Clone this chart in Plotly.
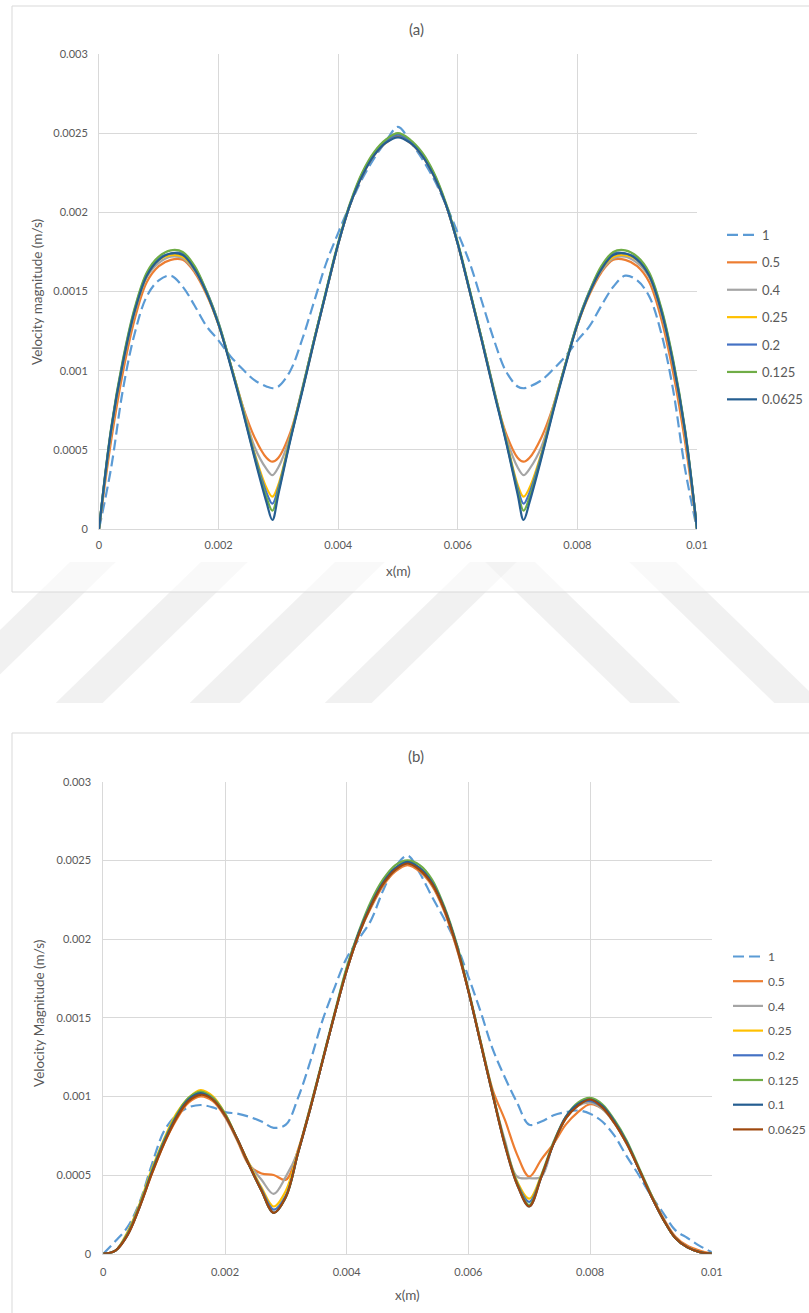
import plotly.graph_objects as go

W, H = 809, 1313

# ---------------- (a) data ----------------
XA = [0, 0.0002, 0.0004, 0.0006, 0.0008, 0.001, 0.0012, 0.0014, 0.0016, 0.0018,
      0.002, 0.0022, 0.0024, 0.0026, 0.0028, 0.0029, 0.003, 0.0032, 0.0034, 0.0036,
      0.0038, 0.004, 0.0042, 0.0044, 0.0046, 0.0048, 0.005, 0.0052, 0.0054, 0.0056,
      0.0058, 0.006, 0.0062, 0.0064, 0.0066, 0.0068, 0.007, 0.0071, 0.0072, 0.0074,
      0.0076, 0.0078, 0.008, 0.0082, 0.0084, 0.0086, 0.0088, 0.009, 0.0092, 0.0094,
      0.0096, 0.0098, 0.01]

A_1 = [0, 0.00038, 0.00088, 0.00124, 0.00147, 0.00157, 0.0016, 0.00153, 0.00141, 0.00128,
       0.00119, 0.00109, 0.00101, 0.00094, 0.0009, 0.000889, 0.0009, 0.001, 0.0012, 0.00144,
       0.00168, 0.00187, 0.00205, 0.00221, 0.00234, 0.00245, 0.00254, 0.00245, 0.00234, 0.00221,
       0.00205, 0.00187, 0.00168, 0.00144, 0.0012, 0.001, 0.0009, 0.000889, 0.0009, 0.00094,
       0.00101, 0.00109, 0.00119, 0.00128, 0.00141, 0.00153, 0.0016, 0.00157, 0.00147, 0.00124,
       0.00088, 0.00038, 0]
A_05 = [0, 0.00055, 0.00099, 0.00133, 0.00156, 0.00166, 0.0017, 0.0017, 0.00162, 0.00148,
        0.00129, 0.00104, 0.00078, 0.00058, 0.00045, 0.000425, 0.00045, 0.00061, 0.00088, 0.00119,
        0.0015, 0.0018, 0.00205, 0.00223, 0.00236, 0.00244, 0.00248, 0.00244, 0.00236, 0.00223,
        0.00205, 0.0018, 0.0015, 0.00119, 0.00088, 0.00061, 0.00045, 0.000425, 0.00045, 0.00058,
        0.00078, 0.00104, 0.00129, 0.00148, 0.00162, 0.0017, 0.0017, 0.00166, 0.00156, 0.00133,
        0.00099, 0.00055, 0]
A_04 = [0, 0.0006, 0.00104, 0.00137, 0.00159, 0.00168, 0.00172, 0.00171, 0.00163, 0.00149,
        0.00129, 0.00104, 0.00078, 0.00052, 0.00038, 0.00034, 0.00039, 0.00059, 0.00089, 0.0012,
        0.0015, 0.0018, 0.00205, 0.00224, 0.00237, 0.00245, 0.00249, 0.00245, 0.00237, 0.00224,
        0.00205, 0.0018, 0.0015, 0.0012, 0.00089, 0.00059, 0.00039, 0.00034, 0.00038, 0.00052,
        0.00078, 0.00104, 0.00129, 0.00149, 0.00163, 0.00171, 0.00172, 0.00168, 0.00159, 0.00137,
        0.00104, 0.0006, 0]
A_025 = [0, 0.00061, 0.00105, 0.00138, 0.0016, 0.0017, 0.00173, 0.00172, 0.00164, 0.00149,
         0.00129, 0.00104, 0.00077, 0.00048, 0.00026, 0.000204, 0.00028, 0.00058, 0.00088, 0.0012,
         0.0015, 0.0018, 0.00205, 0.00224, 0.00237, 0.00245, 0.00249, 0.00245, 0.00237, 0.00224,
         0.00205, 0.0018, 0.0015, 0.0012, 0.00088, 0.00058, 0.00028, 0.000204, 0.00026, 0.00048,
         0.00077, 0.00104, 0.00129, 0.00149, 0.00164, 0.00172, 0.00173, 0.0017, 0.0016, 0.00138,
         0.00105, 0.00061, 0]
A_02 = [0, 0.00062, 0.00106, 0.00139, 0.00161, 0.00171, 0.00174, 0.00174, 0.00165, 0.0015,
        0.0013, 0.00104, 0.00076, 0.00047, 0.00023, 0.00016, 0.00026, 0.00057, 0.00088, 0.0012,
        0.0015, 0.0018, 0.00205, 0.00224, 0.00237, 0.00245, 0.00249, 0.00245, 0.00237, 0.00224,
        0.00205, 0.0018, 0.0015, 0.0012, 0.00088, 0.00057, 0.00026, 0.00016, 0.00023, 0.00047,
        0.00076, 0.00104, 0.0013, 0.0015, 0.00165, 0.00174, 0.00174, 0.00171, 0.00161, 0.00139,
        0.00106, 0.00062, 0]
A_0125 = [0, 0.00063, 0.00107, 0.0014, 0.00162, 0.00172, 0.00176, 0.00175, 0.00166, 0.0015,
          0.0013, 0.00104, 0.00076, 0.00046, 0.0002, 0.000116, 0.00024, 0.00057, 0.00088, 0.0012,
          0.00151, 0.00181, 0.00206, 0.00225, 0.00238, 0.00246, 0.0025, 0.00246, 0.00238, 0.00225,
          0.00206, 0.00181, 0.00151, 0.0012, 0.00088, 0.00057, 0.00024, 0.000116, 0.0002, 0.00046,
          0.00076, 0.00104, 0.0013, 0.0015, 0.00166, 0.00175, 0.00176, 0.00172, 0.00162, 0.0014,
          0.00107, 0.00063, 0]
A_00625 = [0, 0.00062, 0.00105, 0.00138, 0.0016, 0.0017, 0.00174, 0.00173, 0.00164, 0.00149,
           0.00129, 0.00103, 0.00075, 0.00045, 0.00017, 0.000057, 0.00022, 0.00056, 0.00087, 0.00119,
           0.0015, 0.0018, 0.00205, 0.00223, 0.00236, 0.00244, 0.002474, 0.00244, 0.00236, 0.00223,
           0.00205, 0.0018, 0.0015, 0.00119, 0.00087, 0.00056, 0.00022, 0.000057, 0.00017, 0.00045,
           0.00075, 0.00103, 0.00129, 0.00149, 0.00164, 0.00173, 0.00174, 0.0017, 0.0016, 0.00138,
           0.00105, 0.00062, 0]

# ---------------- (b) data ----------------
XB = [0, 0.0002, 0.0004, 0.0006, 0.0008, 0.001, 0.0012, 0.0014, 0.0016, 0.0018,
      0.002, 0.0022, 0.0024, 0.0026, 0.0028, 0.003, 0.0032, 0.0034, 0.0036, 0.0038,
      0.004, 0.0042, 0.0044, 0.0046, 0.0048, 0.005, 0.0052, 0.0054, 0.0056, 0.0058,
      0.006, 0.0062, 0.0064, 0.0066, 0.0068, 0.007, 0.0072, 0.0074, 0.0076, 0.0078,
      0.008, 0.0082, 0.0084, 0.0086, 0.0088, 0.009, 0.0092, 0.0094, 0.0096, 0.0098, 0.01]

B_1 = [0, 0.00008, 0.00017, 0.00033, 0.00057, 0.00078, 0.00088, 0.00093, 0.000945, 0.00093,
       0.0009, 0.00089, 0.00087, 0.00084, 0.0008, 0.00082, 0.00099, 0.00122, 0.00148, 0.00169,
       0.00188, 0.002, 0.00212, 0.00231, 0.00246, 0.00253, 0.00242, 0.00227, 0.00213, 0.00197,
       0.00176, 0.00154, 0.0013, 0.00112, 0.00096, 0.00082, 0.00084, 0.00088, 0.0009, 0.00091,
       0.00089, 0.00084, 0.00075, 0.00062, 0.0005, 0.00037, 0.00026, 0.00015, 0.0001, 0.00005, 0.00001]
B_05 = [0, 0.00002, 0.00012, 0.0003, 0.00051, 0.0007, 0.00085, 0.00096, 0.001, 0.00097,
        0.00087, 0.00072, 0.00056, 0.00051, 0.0005, 0.00047, 0.00066, 0.00093, 0.00122, 0.00152,
        0.0018, 0.00203, 0.0022, 0.00234, 0.00243, 0.00247, 0.00243, 0.00234, 0.00218, 0.00195,
        0.00167, 0.00135, 0.00104, 0.00085, 0.00063, 0.00049, 0.0006, 0.0007, 0.00082, 0.0009,
        0.00095, 0.00092, 0.00083, 0.0007, 0.00054, 0.00038, 0.00023, 0.00011, 0.00005, 0.00002, 0]
B_04 = [0, 0.00002, 0.00013, 0.00031, 0.00052, 0.00072, 0.00087, 0.00098, 0.00102, 0.00099,
        0.00088, 0.00073, 0.00057, 0.00047, 0.00038, 0.00049, 0.00065, 0.00092, 0.00122, 0.00152,
        0.0018, 0.00203, 0.00221, 0.00235, 0.00244, 0.00248, 0.00244, 0.00235, 0.00219, 0.00196,
        0.00167, 0.00134, 0.00101, 0.00072, 0.00049, 0.00048, 0.00049, 0.00071, 0.00086, 0.00094,
        0.00096, 0.00092, 0.00083, 0.0007, 0.00054, 0.00037, 0.00022, 0.0001, 0.00004, 0.00001, 0]
B_025 = [0, 0.00002, 0.00014, 0.00032, 0.00054, 0.00073, 0.00089, 0.00099, 0.00104, 0.001,
         0.00089, 0.00073, 0.00057, 0.00042, 0.0003, 0.0004, 0.00065, 0.00092, 0.00122, 0.00152,
         0.00181, 0.00204, 0.00222, 0.00236, 0.00245, 0.00249, 0.00245, 0.00236, 0.0022, 0.00197,
         0.00167, 0.00134, 0.00101, 0.0007, 0.00046, 0.00035, 0.0005, 0.0007, 0.00086, 0.00095,
         0.00097, 0.00093, 0.00084, 0.00071, 0.00054, 0.00037, 0.00022, 0.0001, 0.00004, 0.00001, 0]
B_02 = [0, 0.00002, 0.00013, 0.00031, 0.00052, 0.00072, 0.00087, 0.00098, 0.00102, 0.00099,
        0.00088, 0.00073, 0.00056, 0.00041, 0.00028, 0.00037, 0.00064, 0.00092, 0.00122, 0.00152,
        0.00181, 0.00204, 0.00222, 0.00236, 0.00245, 0.00249, 0.00245, 0.00236, 0.0022, 0.00197,
        0.00167, 0.00134, 0.00101, 0.0007, 0.00045, 0.00033, 0.00049, 0.0007, 0.00086, 0.00095,
        0.00097, 0.00093, 0.00084, 0.00071, 0.00054, 0.00037, 0.00022, 0.0001, 0.00004, 0.00001, 0]
B_0125 = [0, 0.00002, 0.00013, 0.00031, 0.00053, 0.00072, 0.00088, 0.00099, 0.00103, 0.00099,
          0.00089, 0.00073, 0.00056, 0.0004, 0.00026, 0.00036, 0.00064, 0.00093, 0.00123, 0.00153,
          0.00182, 0.00205, 0.00224, 0.00238, 0.00247, 0.0025, 0.00247, 0.00238, 0.00221, 0.00198,
          0.00168, 0.00135, 0.00102, 0.0007, 0.00045, 0.00031, 0.0005, 0.00071, 0.00087, 0.00096,
          0.00099, 0.00095, 0.00085, 0.00072, 0.00055, 0.00038, 0.00022, 0.0001, 0.00004, 0.00001, 0]
B_01 = [0, 0.00002, 0.00012, 0.0003, 0.00052, 0.00071, 0.00087, 0.00098, 0.00102, 0.00098,
        0.00088, 0.00073, 0.00056, 0.0004, 0.00026, 0.00036, 0.00064, 0.00092, 0.00122, 0.00152,
        0.0018, 0.00204, 0.00222, 0.00236, 0.00245, 0.00249, 0.00245, 0.00236, 0.0022, 0.00197,
        0.00167, 0.00134, 0.00101, 0.00069, 0.00044, 0.0003, 0.00049, 0.0007, 0.00087, 0.00095,
        0.00098, 0.00094, 0.00084, 0.00071, 0.00054, 0.00037, 0.00022, 0.0001, 0.00004, 0.00001, 0]
B_00625 = [0, 0.00002, 0.00012, 0.0003, 0.00051, 0.0007, 0.00086, 0.00097, 0.00101, 0.00098,
           0.00088, 0.00073, 0.00056, 0.0004, 0.00026, 0.00036, 0.00064, 0.00092, 0.00122, 0.00152,
           0.0018, 0.00203, 0.00221, 0.00235, 0.00244, 0.00248, 0.00244, 0.00235, 0.00219, 0.00196,
           0.00167, 0.00134, 0.00101, 0.00069, 0.00044, 0.0003, 0.00049, 0.0007, 0.00086, 0.00094,
           0.00098, 0.00093, 0.00083, 0.0007, 0.00054, 0.00037, 0.00022, 0.0001, 0.00004, 0.00001, 0]

# ---------------- ticks / labels ----------------
X_TICKS = [0, 0.002, 0.004, 0.006, 0.008, 0.01]
X_TICK_LABELS = ["0", "0.002", "0.004", "0.006", "0.008", "0.01"]
Y_TICKS = [0, 0.0005, 0.001, 0.0015, 0.002, 0.0025, 0.003]
Y_TICK_LABELS = ["0", "0.0005", "0.001", "0.0015", "0.002", "0.0025", "0.003"]

SERIES_A = [("1", A_1), ("0.5", A_05), ("0.4", A_04), ("0.25", A_025),
            ("0.2", A_02), ("0.125", A_0125), ("0.0625", A_00625)]
SERIES_B = [("1", B_1), ("0.5", B_05), ("0.4", B_04), ("0.25", B_025),
            ("0.2", B_02), ("0.125", B_0125), ("0.1", B_01), ("0.0625", B_00625)]

COLORS_A = ["#5B9BD5", "#ED7D31", "#A5A5A5", "#FFC000", "#4472C4", "#70AD47", "#255E91"]
COLORS_B = ["#5B9BD5", "#ED7D31", "#A5A5A5", "#FFC000", "#4472C4", "#70AD47", "#255E91", "#9E480E"]

FONT = "Lato"
TXT = "#595959"
GRID = "#d9d9d9"


def px(x):
    return x / W


def py(y):
    return 1 - y / H


fig = go.Figure()

for i, (name, vals) in enumerate(SERIES_A):
    fig.add_trace(go.Scatter(
        x=XA, y=vals, name=name, mode="lines", xaxis="x", yaxis="y",
        legend="legend", legendgroup="a" + name,
        line=dict(color=COLORS_A[i], width=2.2, shape="spline", smoothing=1.0,
                  dash="11px,5px" if name == "1" else "solid"),
    ))

for i, (name, vals) in enumerate(SERIES_B):
    fig.add_trace(go.Scatter(
        x=XB, y=vals, name=name, mode="lines", xaxis="x2", yaxis="y2",
        legend="legend2", legendgroup="b" + name,
        line=dict(color=COLORS_B[i], width=2.2, shape="spline", smoothing=1.0,
                  dash="11px,5px" if name == "1" else "solid"),
    ))

axis_common = dict(
    showgrid=True, gridcolor=GRID, gridwidth=1, zeroline=False,
    ticks="", tickfont=dict(family=FONT, size=11, color=TXT),
    showline=True, linecolor=GRID, linewidth=1, fixedrange=True,
)

fig.update_layout(
    width=W, height=H,
    margin=dict(l=0, r=0, t=0, b=0, autoexpand=False),
    paper_bgcolor="white", plot_bgcolor="rgba(0,0,0,0)",
    font=dict(family=FONT, color=TXT),
    xaxis=dict(domain=[px(99), px(697)], anchor="y", range=[0, 0.01],
               tickvals=X_TICKS, ticktext=X_TICK_LABELS, ticklabelstandoff=6, **axis_common),
    yaxis=dict(domain=[py(529), py(54)], anchor="x", range=[0, 0.003],
               tickvals=Y_TICKS, ticktext=Y_TICK_LABELS, ticklabelstandoff=8, **axis_common),
    xaxis2=dict(domain=[px(103.3), px(711.8)], anchor="y2", range=[0, 0.01],
                tickvals=X_TICKS, ticktext=X_TICK_LABELS, ticklabelstandoff=8, **axis_common),
    yaxis2=dict(domain=[py(1253.7), py(781.7)], anchor="x2", range=[0, 0.003],
                tickvals=Y_TICKS, ticktext=Y_TICK_LABELS, ticklabelstandoff=9, **axis_common),
    legend=dict(x=px(722), y=py(220), xanchor="left", yanchor="top",
                font=dict(family=FONT, size=13, color=TXT), bgcolor="rgba(0,0,0,0)",
                tracegroupgap=7.5, traceorder="grouped"),
    legend2=dict(x=px(728), y=py(942), xanchor="left", yanchor="top",
                 font=dict(family=FONT, size=12, color=TXT), bgcolor="rgba(0,0,0,0)",
                 tracegroupgap=5.7, traceorder="grouped"),
)

# chart titles and axis titles
ann = [
    ("(a)", 416, 29, 15, 0),
    ("(b)", 416, 756, 15, 0),
    ("x(m)", 398, 571, 13.5, 0),
    ("x(m)", 408, 1295, 13.5, 0),
    ("Velocity magnitude (m/s)", 37, 292, 13.5, -90),
    ("Velocity Magnitude (m/s)", 39, 1014, 13.5, -90),
]
for text, ax, ay, size, angle in ann:
    fig.add_annotation(text=text, x=px(ax), y=py(ay), xref="paper", yref="paper",
                       xanchor="center", yanchor="middle", showarrow=False, textangle=angle,
                       font=dict(family=FONT, size=size, color=TXT))

# chart frames
frame = dict(type="line", xref="paper", yref="paper", line=dict(color=GRID, width=1))
for x0, y0, x1, y1 in [(12, 6, 809, 6), (12, 6, 12, 592), (12, 592, 809, 592),
                       (12, 733, 809, 733), (12, 733, 12, 1313)]:
    fig.add_shape(x0=px(x0), y0=py(y0), x1=px(x1), y1=py(y1), **frame)

# faint diagonal watermark bands between the two charts
bands = [(39, 46, -1), (170, 47, -1), (304, 50, -1), (439, 47, -1), (516, 50, 1), (660, 47, 1)]
for xl, wd, d in bands:
    for ytop, ybot, alpha in [(592, 703, 0.055), (562, 592, 0.025)]:
        s = 1.03
        xt = xl + d * s * (ytop - 592)
        xb = xl + d * s * (ybot - 592)
        path = "M {:.4f},{:.4f} L {:.4f},{:.4f} L {:.4f},{:.4f} L {:.4f},{:.4f} Z".format(
            px(xt), py(ytop), px(xt + wd), py(ytop), px(xb + wd), py(ybot), px(xb), py(ybot))
        fig.add_shape(type="path", path=path, xref="paper", yref="paper",
                      fillcolor="rgba(0,0,0,{})".format(alpha), line=dict(width=0), layer="below")

fig.write_html("out.html", config={"displayModeBar": False})
